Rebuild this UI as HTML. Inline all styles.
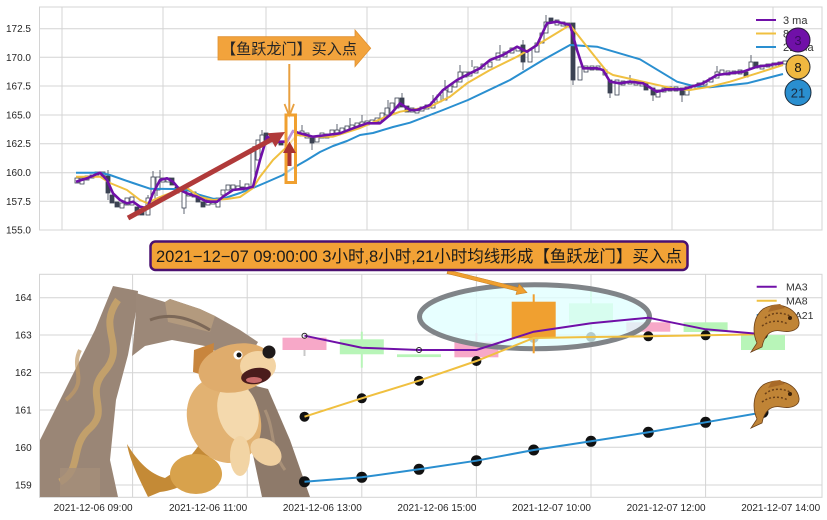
<!DOCTYPE html>
<html>
<head>
<meta charset="utf-8">
<style>
html,body{margin:0;padding:0;background:#fff;}
svg{display:block;}
text{font-family:"Liberation Sans","Noto Sans CJK SC",sans-serif;}
.w{fill:#fff;stroke:#3b4252;stroke-width:0.8;}
.d{fill:#3b4252;stroke:#3b4252;stroke-width:0.8;}
.g{stroke:#d4d4d4;stroke-width:1;fill:none;}
.t{font-size:10px;fill:#262626;}
</style>
</head>
<body>
<svg width="827" height="520" viewBox="0 0 827 520" xmlns="http://www.w3.org/2000/svg">
<rect width="827" height="520" fill="#fff"/>

<!-- ================= TOP CHART ================= -->
<g class="g">
  <path d="M40,28.7H822M40,57.3H822M40,86H822M40,115H822M40,143.7H822M40,172.7H822M40,201.3H822"/>
  <path d="M62,7V230M163,7V230M266,7V230M367,7V230M468,7V230M571,7V230M672,7V230M773,7V230"/>
  <rect x="39.5" y="7" width="782.5" height="223"/>
</g>
<g class="t" text-anchor="end">
  <text x="31" y="32.2">172.5</text>
  <text x="31" y="60.8">170.0</text>
  <text x="31" y="89.5">167.5</text>
  <text x="31" y="118.5">165.0</text>
  <text x="31" y="147.2">162.5</text>
  <text x="31" y="176.2">160.0</text>
  <text x="31" y="204.8">157.5</text>
  <text x="31" y="233.5">155.0</text>
</g>

<!-- wicks -->
<path d="M108,170V176M108,193V200M148,195V198M153,171V177M160,170V177M184,186V190M184,208V214M253,146V150M262,130V135M302,125V131M312,143V150M337,124V130M350,118V125M362,115V122M388,100V108M402,93V98M433,95V102M445,80V90M460,65V72M472,60V67M500,45V53M523,40V45M523,62V70M546,15V22M573,80V85M610,93V98M630,75V81M653,95V101M682,95V102M717,66V72M751,55V62M157,190V196M240,180V187" stroke="#3b4252" stroke-width="0.8"/>

<!-- candles -->
<g>
<rect class="w" x="75" y="178" width="4" height="5"/>
<rect class="w" x="80" y="178" width="4" height="6"/>
<rect class="w" x="85" y="176" width="4" height="4"/>
<rect class="w" x="90" y="175" width="4" height="3"/>
<rect class="w" x="95" y="172" width="4" height="3"/>
<rect class="w" x="101" y="172" width="4" height="4"/>
<rect class="d" x="106" y="176" width="4" height="17"/>
<rect class="d" x="110" y="195" width="4" height="8"/>
<rect class="d" x="115" y="202" width="4" height="5"/>
<rect class="w" x="120" y="203" width="4" height="5"/>
<rect class="w" x="125" y="198" width="4" height="7"/>
<rect class="w" x="130" y="197" width="4" height="8"/>
<rect class="d" x="135" y="207" width="4" height="8"/>
<rect class="d" x="140" y="210" width="4" height="5"/>
<rect class="w" x="146" y="198" width="4" height="17"/>
<rect class="w" x="151" y="177" width="4" height="23"/>
<rect class="w" x="156" y="177" width="4" height="13"/>
<rect class="w" x="161" y="178" width="4" height="4"/>
<rect class="w" x="166" y="178" width="4" height="4"/>
<rect class="d" x="170" y="178" width="4" height="7"/>
<rect class="d" x="175" y="187" width="4" height="6"/>
<rect class="w" x="182" y="190" width="4" height="18"/>
<rect class="w" x="187" y="190" width="4" height="6"/>
<rect class="w" x="192" y="192" width="4" height="5"/>
<rect class="d" x="196" y="195" width="4" height="7"/>
<rect class="d" x="201" y="202" width="4" height="5"/>
<rect class="w" x="206" y="200" width="4" height="5"/>
<rect class="w" x="211" y="200" width="4" height="4"/>
<rect class="w" x="216" y="198" width="4" height="9"/>
<rect class="w" x="221" y="190" width="4" height="5"/>
<rect class="w" x="226" y="185" width="4" height="5"/>
<rect class="w" x="231" y="185" width="4" height="4"/>
<rect class="w" x="236" y="186" width="4" height="4"/>
<rect class="d" x="240" y="187" width="4" height="3"/>
<rect class="w" x="245" y="184" width="4" height="5"/>
<rect class="w" x="251" y="150" width="4" height="37"/>
<rect class="w" x="256" y="140" width="4" height="20"/>
<rect class="w" x="260" y="135" width="4" height="8"/>
<rect class="d" x="264" y="133" width="4" height="7"/>
<rect class="w" x="269" y="138" width="4" height="4"/>
<rect class="w" x="274" y="140" width="4" height="3"/>
<rect class="d" x="279" y="141" width="4" height="4"/>
<rect class="w" x="300" y="131" width="4" height="5"/>
<rect class="w" x="305" y="133" width="4" height="5"/>
<rect class="d" x="310" y="138" width="4" height="5"/>
<rect class="w" x="315" y="137" width="4" height="5"/>
<rect class="w" x="320" y="133" width="4" height="5"/>
<rect class="w" x="325" y="134" width="4" height="4"/>
<rect class="w" x="330" y="130" width="4" height="5"/>
<rect class="w" x="335" y="130" width="4" height="4"/>
<rect class="w" x="340" y="128" width="4" height="5"/>
<rect class="w" x="345" y="126" width="4" height="4"/>
<rect class="w" x="350" y="125" width="4" height="4"/>
<rect class="w" x="355" y="123" width="4" height="4"/>
<rect class="w" x="360" y="122" width="4" height="4"/>
<rect class="w" x="365" y="121" width="4" height="4"/>
<rect class="w" x="370" y="120" width="4" height="4"/>
<rect class="w" x="375" y="118" width="4" height="4"/>
<rect class="w" x="380" y="113" width="4" height="7"/>
<rect class="w" x="385" y="108" width="4" height="7"/>
<rect class="w" x="390" y="103" width="4" height="10"/>
<rect class="w" x="395" y="98" width="4" height="10"/>
<rect class="d" x="400" y="98" width="4" height="9"/>
<rect class="d" x="405" y="106" width="4" height="6"/>
<rect class="w" x="410" y="108" width="4" height="4"/>
<rect class="w" x="415" y="109" width="4" height="4"/>
<rect class="w" x="420" y="107" width="4" height="4"/>
<rect class="w" x="425" y="105" width="4" height="4"/>
<rect class="w" x="431" y="102" width="4" height="6"/>
<rect class="w" x="437" y="95" width="4" height="7"/>
<rect class="w" x="443" y="90" width="4" height="10"/>
<rect class="w" x="448" y="86" width="4" height="6"/>
<rect class="w" x="453" y="82" width="4" height="5"/>
<rect class="w" x="458" y="72" width="4" height="10"/>
<rect class="w" x="463" y="72" width="4" height="5"/>
<rect class="w" x="468" y="72" width="4" height="4"/>
<rect class="w" x="474" y="67" width="4" height="6"/>
<rect class="w" x="481" y="64" width="4" height="5"/>
<rect class="w" x="488" y="62" width="4" height="5"/>
<rect class="w" x="496" y="53" width="4" height="7"/>
<rect class="w" x="503" y="52" width="4" height="5"/>
<rect class="w" x="510" y="48" width="4" height="5"/>
<rect class="w" x="516" y="47" width="4" height="4"/>
<rect class="d" x="521" y="45" width="4" height="17"/>
<rect class="w" x="528" y="50" width="4" height="12"/>
<rect class="w" x="535" y="43" width="4" height="9"/>
<rect class="w" x="540" y="33" width="4" height="10"/>
<rect class="w" x="544" y="22" width="4" height="11"/>
<rect class="d" x="549" y="18" width="4" height="5"/>
<rect class="w" x="555" y="20" width="4" height="5"/>
<rect class="w" x="561" y="22" width="4" height="4"/>
<rect class="w" x="566" y="23" width="4" height="4"/>
<rect class="d" x="571" y="23" width="4" height="57"/>
<rect class="w" x="578" y="67" width="4" height="13"/>
<rect class="w" x="584" y="66" width="4" height="6"/>
<rect class="w" x="590" y="66" width="4" height="4"/>
<rect class="w" x="596" y="66" width="4" height="4"/>
<rect class="w" x="603" y="70" width="4" height="5"/>
<rect class="d" x="608" y="80" width="4" height="13"/>
<rect class="w" x="615" y="80" width="4" height="15"/>
<rect class="w" x="621" y="81" width="4" height="4"/>
<rect class="w" x="628" y="81" width="4" height="3"/>
<rect class="w" x="634" y="81" width="4" height="4"/>
<rect class="w" x="640" y="82" width="4" height="4"/>
<rect class="d" x="644" y="83" width="4" height="7"/>
<rect class="d" x="651" y="88" width="4" height="7"/>
<rect class="w" x="656" y="90" width="4" height="7"/>
<rect class="w" x="662" y="88" width="4" height="4"/>
<rect class="w" x="668" y="87" width="4" height="4"/>
<rect class="w" x="674" y="87" width="4" height="4"/>
<rect class="d" x="680" y="88" width="4" height="7"/>
<rect class="w" x="685" y="87" width="4" height="8"/>
<rect class="w" x="691" y="85" width="4" height="4"/>
<rect class="w" x="697" y="83" width="4" height="4"/>
<rect class="w" x="703" y="81" width="4" height="4"/>
<rect class="w" x="709" y="78" width="4" height="4"/>
<rect class="w" x="715" y="72" width="4" height="6"/>
<rect class="w" x="720" y="70" width="4" height="4"/>
<rect class="w" x="726" y="71" width="4" height="4"/>
<rect class="w" x="732" y="71" width="4" height="3"/>
<rect class="w" x="738" y="70" width="4" height="4"/>
<rect class="d" x="744" y="72" width="4" height="5"/>
<rect class="w" x="749" y="62" width="4" height="6"/>
<rect class="d" x="754" y="62" width="4" height="6"/>
<rect class="w" x="760" y="65" width="4" height="4"/>
<rect class="w" x="766" y="64" width="4" height="3"/>
<rect class="w" x="772" y="63" width="4" height="4"/>
<rect class="w" x="778" y="62" width="4" height="3"/>
<rect class="w" x="783" y="61" width="4" height="3"/>
</g>

<!-- MA lines top -->
<polyline fill="none" stroke="#2a8fd0" stroke-width="2" stroke-linejoin="round" points="76,172.7 100,172.7 110,175 133,183 150,188.7 173,189 187,190 200,195 213,198.7 223,198.7 240,193 253,188 267,182 283,175 293,168 307,160 320,152 333,146 347,141 360,135 373,133 393,127 410,122.7 443,110 468,100 510,80 543,60 570,45 597,46.7 640,59.3 677,81.7 693,86 710,87.3 747,83.3 783,74"/>
<polyline fill="none" stroke="#f0c040" stroke-width="2" stroke-linejoin="round" points="76,176.7 100,176.7 110,183 127,190 140,200 147,203 160,197 173,192 187,188 200,197 213,200 227,199 240,197 253,188 260,176.7 273,160 287,146.7 297,135 313,136.7 333,136.7 360,128 383,118 400,111.7 430,106.7 450,96.7 467,83.3 490,70 517,56.7 540,43.3 570,25 587,46.7 607,71.7 613,75 643,81.7 677,89.3 690,90 710,86.7 730,81.7 757,73.3 783,65"/>
<polyline fill="none" stroke="#7010a8" stroke-width="2.6" stroke-linejoin="round" points="76,181.7 87,178.3 100,172.7 107,180 113,193.3 120,200 127,203.3 133,201.7 140,206.7 147,208.3 153,193.3 160,180 167,178.3 173,181.7 180,190 187,193.3 197,196.7 207,201.7 217,201.7 223,196.7 233,190 247,188.3 253,186.7 260,160 267,136.7 277,141.7 287,141.7 293,131 300,133.3 313,136.7 327,135 340,133.3 353,128.3 367,123.3 380,123.3 390,115 400,103.3 410,110 417,110 430,105 443,90 457,80 470,73.3 480,68.3 490,60 503,55 517,46.7 527,51.7 537,45 547,23.3 557,21.7 570,25 577,50 583,68.3 597,68.3 603,70 610,81.7 620,83.3 630,81.7 643,83.3 657,91.7 667,89.3 683,89.3 703,83.3 717,75 730,73.3 743,71.7 757,66.7 770,65 783,62.7"/>

<!-- top legend -->
<line x1="756" y1="20" x2="776" y2="20" stroke="#7010a8" stroke-width="2"/>
<line x1="756" y1="33.5" x2="776" y2="33.5" stroke="#f0c040" stroke-width="2"/>
<line x1="756" y1="47" x2="776" y2="47" stroke="#2a8fd0" stroke-width="2"/>
<g font-size="11" fill="#333">
  <text x="783" y="24">3 ma</text>
  <text x="783" y="37.5">8 ma</text>
  <text x="783" y="51">21 ma</text>
</g>
<circle cx="798" cy="40" r="12" fill="#7010a8" stroke="#2a1a3a" stroke-width="1"/>
<text x="798" y="45" font-size="13" text-anchor="middle" fill="#3a0a60">3</text>
<circle cx="798" cy="67" r="12" fill="#f0b840" stroke="#2a2a2a" stroke-width="1"/>
<text x="798" y="72" font-size="13" text-anchor="middle" fill="#111">8</text>
<circle cx="798" cy="92.5" r="13" fill="#2a8fd0" stroke="#1a2a3a" stroke-width="1"/>
<text x="798" y="97.5" font-size="13" text-anchor="middle" fill="#1a2a40">21</text>

<!-- top annotations -->
<polygon points="218,36.7 355,36.7 355,30 370.7,48.3 355,66.7 355,60 218,60" fill="#f2a33c" stroke="#e09030" stroke-width="0.8"/>
<text x="221" y="54" font-size="15" fill="#262626" textLength="136" lengthAdjust="spacingAndGlyphs">【鱼跃龙门】买入点</text>
<line x1="289.3" y1="64" x2="289.3" y2="115" stroke="#e8a040" stroke-width="2"/>
<polyline points="284.5,104 289.3,116 294,104" fill="none" stroke="#e8a040" stroke-width="1.8"/>
<rect x="286" y="115" width="9.5" height="67.5" fill="rgba(255,255,255,0.55)" stroke="#f0a030" stroke-width="3"/>
<line x1="289.5" y1="166" x2="289.5" y2="150" stroke="#a83232" stroke-width="4"/>
<polygon points="283,153 289.5,141.5 296,153" fill="#a83232"/>
<!-- big red arrow -->
<line x1="128" y1="218" x2="272" y2="139.2" stroke="#b03a3a" stroke-width="5"/>
<polygon points="285,132 275.3,147.2 267.6,133.2" fill="#b03a3a"/>

<!-- ================= BOTTOM CHART ================= -->
<g class="g">
  <path d="M40,297.7H822M40,335H822M40,372.7H822M40,410H822M40,447.3H822M40,485H822"/>
  <path d="M132.6,274.3V497.3M247.2,274.3V497.3M361.8,274.3V497.3M476.4,274.3V497.3M591,274.3V497.3M705.6,274.3V497.3"/>
  <rect x="39.5" y="274.3" width="782.5" height="223"/>
</g>
<g class="t" text-anchor="end">
  <text x="31.7" y="301.2">164</text>
  <text x="31.7" y="338.5">163</text>
  <text x="31.7" y="376.2">162</text>
  <text x="31.7" y="413.5">161</text>
  <text x="31.7" y="450.8">160</text>
  <text x="31.7" y="488.5">159</text>
</g>
<g class="t" text-anchor="end">
  <text x="132.6" y="511">2021-12-06 09:00</text>
  <text x="247.2" y="511">2021-12-06 11:00</text>
  <text x="361.8" y="511">2021-12-06 13:00</text>
  <text x="476.4" y="511">2021-12-06 15:00</text>
  <text x="591" y="511">2021-12-07 10:00</text>
  <text x="705.6" y="511">2021-12-07 12:00</text>
  <text x="820.2" y="511">2021-12-07 14:00</text>
</g>

<!-- Gate -->
<g>
  <polygon points="113,286 138,291 136,312 128,355 116,400 110,460 118,497 40,497 40,440 70,380 95,330" fill="#9a8676"/>
  <polygon points="136,293 165,302 170,299 200,309 215,316 240,330 258,342 250,356 225,356 205,346 172,340 145,346 132,356 136,312" fill="#9c8878"/>
  <polygon points="165,302 170,299 200,309 215,316 210,332 168,322" fill="#b39a7e"/>
  <polygon points="248,384 268,389 290,440 310,497 262,497 252,450" fill="#8e7a6a"/>
  <path d="M118,300 C96,330 128,345 104,372 C84,396 112,410 88,430 C70,448 82,470 60,482" fill="none" stroke="#c9a46a" stroke-width="7" opacity="0.85"/>
  <path d="M80,350 C70,370 90,380 66,400" fill="none" stroke="#c19a66" stroke-width="4" opacity="0.7"/>
  <rect x="60" y="468" width="40" height="28" fill="#a58f7a" opacity="0.8"/>
  <path d="M150,320 C170,312 190,318 210,330" fill="none" stroke="#7c6858" stroke-width="3"/>
  <path d="M265,410 C275,430 270,450 285,470" fill="none" stroke="#a89078" stroke-width="3"/>
</g>
<!-- Dog -->
<g>
  <path d="M212,452 C200,478 180,490 160,492 L148,497 C140,480 130,462 127,444 C138,462 150,474 165,478 C182,468 195,452 205,436 Z" fill="#c48a36"/>
  <ellipse cx="196" cy="474" rx="26" ry="20" fill="#d8a24c"/>
  <ellipse cx="224" cy="420" rx="36" ry="44" transform="rotate(-22 224 420)" fill="#e2b272"/>
  <ellipse cx="238" cy="412" rx="20" ry="30" transform="rotate(-15 238 412)" fill="#f4d9ad"/>
  <ellipse cx="240" cy="456" rx="10" ry="20" fill="#f2d4a4"/>
  <ellipse cx="266" cy="452" rx="17" ry="12" transform="rotate(35 266 452)" fill="#f0d0a0"/>
  <polygon points="194,350 214,343 212,378 193,372" fill="#c8853d"/>
  <ellipse cx="236" cy="368" rx="38" ry="24" transform="rotate(-12 236 368)" fill="#dfac6c"/>
  <ellipse cx="258" cy="366" rx="18" ry="15" fill="#f3d4a4"/>
  <circle cx="269" cy="352" r="6.5" fill="#1e1a1a"/>
  <ellipse cx="256" cy="376" rx="15" ry="8" transform="rotate(-10 256 376)" fill="#4a1c1c"/>
  <ellipse cx="254" cy="380" rx="8" ry="3" fill="#c86a6a"/>
  <circle cx="238" cy="355" r="4.5" fill="#fff"/>
  <circle cx="239" cy="355" r="2.5" fill="#111"/>
</g>

<!-- bottom candles -->
<g>
  <line x1="304.5" y1="350" x2="304.5" y2="356" stroke="#c8c8c8" stroke-width="2"/>
  <rect x="282.5" y="337.7" width="44" height="12.3" fill="#f7a8c8"/>
  <line x1="361.8" y1="331.7" x2="361.8" y2="367.7" stroke="#b8f5b8" stroke-width="2"/>
  <rect x="339.8" y="339.3" width="44" height="15" fill="#b8f5b8"/>
  <rect x="397" y="354.3" width="44" height="2.8" fill="#b8f5b8"/>
  <line x1="476.4" y1="333" x2="476.4" y2="342" stroke="#f7a8c8" stroke-width="2"/>
  <rect x="454.4" y="341.7" width="44" height="15.6" fill="#f7a8c8"/>
  <line x1="591" y1="287.7" x2="591" y2="330" stroke="#b8f5b8" stroke-width="2"/>
  <rect x="569" y="303.3" width="44" height="20" fill="#b8f5b8"/>
  <rect x="626.3" y="322.3" width="44" height="9.4" fill="#f7a8c8"/>
  <rect x="683.6" y="322.3" width="44" height="9.7" fill="#b8f5b8"/>
  <rect x="741" y="335" width="44" height="15" fill="#b8f5b8"/>
</g>

<!-- MA8 & MA21 dots -->
<g fill="#111">
  <circle cx="304.5" cy="416.7" r="5"/><circle cx="361.8" cy="398.3" r="5"/><circle cx="419" cy="380.7" r="5"/><circle cx="476.4" cy="361" r="5"/>
  <circle cx="533.7" cy="338" r="5"/><circle cx="591" cy="337" r="5"/><circle cx="648.3" cy="336.3" r="5"/><circle cx="705.6" cy="335.3" r="5"/><circle cx="763" cy="334.3" r="5"/>
  <circle cx="304.5" cy="481.7" r="5.5"/><circle cx="361.8" cy="477.3" r="5.5"/><circle cx="419" cy="469.3" r="5.5"/><circle cx="476.4" cy="460.7" r="5.5"/>
  <circle cx="533.7" cy="450" r="5.5"/><circle cx="591" cy="441.3" r="5.5"/><circle cx="648.3" cy="432.3" r="5.5"/><circle cx="705.6" cy="422.3" r="5.5"/><circle cx="763" cy="412.3" r="5.5"/>
</g>

<!-- ellipse highlight -->
<ellipse cx="534.5" cy="316.7" rx="115" ry="32" fill="rgba(224,255,255,0.78)" stroke="#808488" stroke-width="5"/>

<!-- orange main candle on top -->
<line x1="533.7" y1="294.3" x2="533.7" y2="353.3" stroke="#f0a030" stroke-width="2"/>
<rect x="511.7" y="301.7" width="44" height="36.6" fill="#f0a030"/>

<!-- MA lines bottom -->
<polyline fill="none" stroke="#2a8fd0" stroke-width="2" points="304.5,481.7 361.8,477.3 419,469.3 476.4,460.7 533.7,450 591,441.3 648.3,432.3 705.6,422.3 763,412.3"/>
<polyline fill="none" stroke="#f0c040" stroke-width="2" points="304.5,416.7 361.8,398.3 419,380.7 476.4,361 533.7,338 591,337 648.3,336.3 705.6,335.3 763,334.3"/>
<polyline fill="none" stroke="#7010a8" stroke-width="2" points="304.5,335.7 361.8,347.7 419,350 476.4,350 533.7,331.7 591,323.3 648.3,317.7 705.6,329.3 763,334.3"/>
<g fill="none" stroke="#222" stroke-width="1">
  <circle cx="304.5" cy="335.7" r="2.5"/><circle cx="419" cy="350" r="2.5"/>
</g>

<!-- arrow from box to ellipse -->
<polygon points="448,270 518,287.5 519,284 527,292.5 516,294.5 517,291 447,273.5" fill="#f0a030" stroke="#c88020" stroke-width="0.6"/>

<!-- annotation box bottom -->
<rect x="150.5" y="241.5" width="537" height="28.5" rx="5" fill="#f2a236" stroke="#4a1070" stroke-width="2.5"/>
<text x="156" y="262" font-size="16.5" fill="#1a1a1a" textLength="526" lengthAdjust="spacingAndGlyphs">2021−12−07 09:00:00 3小时,8小时,21小时均线形成【鱼跃龙门】买入点</text>

<!-- bottom legend -->
<line x1="756.7" y1="286.7" x2="776.7" y2="286.7" stroke="#7010a8" stroke-width="2"/>
<line x1="756.7" y1="300.7" x2="776.7" y2="300.7" stroke="#f0c040" stroke-width="2"/>
<line x1="756.7" y1="315" x2="776.7" y2="315" stroke="#2a8fd0" stroke-width="2"/>
<g font-size="10.5" fill="#333">
  <text x="786" y="290.5">MA3</text>
  <text x="786" y="304.5">MA8</text>
  <text x="786" y="319">MA21</text>
</g>

<!-- fish -->
<g id="fish1">
  <path d="M799,322 C797,308 778,300 763,309 C753,317 752,332 757,343 L751,352 L762,347 C764,336 770,329 781,331 C792,333 800,329 799,322 Z" fill="#c08436" stroke="#6b4018" stroke-width="0.8"/>
  <path d="M768,312 L772,305 L780,304 L785,308" fill="#a86a28"/>
  <circle cx="790" cy="318" r="2" fill="#3a2008"/>
  <path d="M765,318 C772,312 782,312 790,316" fill="none" stroke="#6b4018" stroke-width="1.5" stroke-dasharray="2 2"/>
  <path d="M762,326 C770,320 780,320 788,324" fill="none" stroke="#6b4018" stroke-width="1.5" stroke-dasharray="2 2"/>
</g>
<g transform="translate(0,76)">
  <path d="M799,322 C797,308 778,300 763,309 C753,317 752,332 757,343 L751,352 L762,347 C764,336 770,329 781,331 C792,333 800,329 799,322 Z" fill="#c08436" stroke="#6b4018" stroke-width="0.8"/>
  <path d="M768,312 L772,305 L780,304 L785,308" fill="#a86a28"/>
  <circle cx="790" cy="318" r="2" fill="#3a2008"/>
  <path d="M765,318 C772,312 782,312 790,316" fill="none" stroke="#6b4018" stroke-width="1.5" stroke-dasharray="2 2"/>
  <path d="M762,326 C770,320 780,320 788,324" fill="none" stroke="#6b4018" stroke-width="1.5" stroke-dasharray="2 2"/>
</g>
</svg>
</body>
</html>
